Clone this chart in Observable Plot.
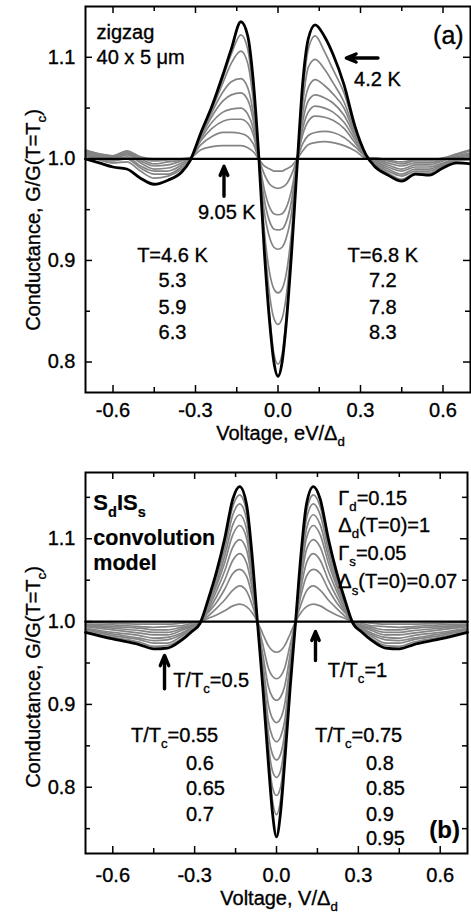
<!DOCTYPE html>
<html><head><meta charset="utf-8">
<script src="https://cdn.jsdelivr.net/npm/d3@7"></script>
<script src="https://cdn.jsdelivr.net/npm/@observablehq/plot@0.6"></script>
<style>
html,body{margin:0;padding:0;background:#fff}
#chart{width:471px}
#chart svg{display:block}
#chart svg text{stroke:#000;stroke-width:0.35px}
</style></head>
<body><div id="chart"></div>
<script>
// ---------- Panel (a): measured conductance, zigzag 40 x 5 um ----------
const xA = [-0.7, -0.65, -0.6, -0.55, -0.5, -0.45, -0.4, -0.35,
  -0.32, -0.28, -0.24, -0.2, -0.17, -0.135, -0.11, -0.09, -0.07,
  -0.05, -0.03, -0.015, 0, 0.015, 0.03, 0.05,
  0.07, 0.09, 0.11, 0.135, 0.17, 0.2, 0.24, 0.28, 0.32,
  0.35, 0.4, 0.45, 0.5, 0.55, 0.6, 0.65, 0.7];
const a42 = [1.0, 0.996, 0.992, 0.990, 0.981, 0.975, 0.979, 0.987,
  0.998, 1.026, 1.052, 1.083, 1.108, 1.135, 1.121, 1.077, 1.003,
  0.91, 0.838, 0.80, 0.786, 0.80, 0.838, 0.91,
  0.995, 1.075, 1.118, 1.132, 1.12, 1.103, 1.073, 1.032, 1.004,
  0.993, 0.984, 0.978, 0.985, 0.984, 0.991, 0.996, 0.995];
const a46 = [1.003, 0.999, 0.996, 0.997, 0.988, 0.981, 0.983, 0.99,
  0.997, 1.025, 1.051, 1.08, 1.103, 1.122, 1.108, 1.065, 1.003,
  0.914, 0.845, 0.808, 0.798, 0.808, 0.845, 0.914,
  0.997, 1.065, 1.108, 1.121, 1.105, 1.088, 1.065, 1.03, 1.004,
  0.995, 0.986, 0.980, 0.986, 0.986, 0.993, 0.998, 0.999];
const a53 = [1.004, 1.0, 0.998, 1.0, 0.991, 0.985, 0.985, 0.992,
  0.998, 1.024, 1.049, 1.075, 1.094, 1.106, 1.094, 1.058, 1.002,
  0.922, 0.865, 0.843, 0.837, 0.843, 0.865, 0.922,
  0.998, 1.055, 1.09, 1.098, 1.088, 1.075, 1.056, 1.027, 1.004,
  0.996, 0.988, 0.983, 0.988, 0.988, 0.994, 0.999, 1.001];
const a59 = [1.005, 1.001, 0.999, 1.002, 0.993, 0.988, 0.988, 0.994,
  0.999, 1.023, 1.046, 1.066, 1.076, 1.079, 1.07, 1.045, 1.001,
  0.93, 0.887, 0.872, 0.868, 0.872, 0.887, 0.93,
  0.999, 1.045, 1.07, 1.078, 1.072, 1.064, 1.05, 1.024, 1.003,
  0.997, 0.990, 0.985, 0.990, 0.990, 0.995, 1.0, 1.003];
const a63 = [1.006, 1.002, 1.0, 1.004, 0.996, 0.99, 0.991, 0.996,
  1.0, 1.022, 1.042, 1.057, 1.063, 1.065, 1.058, 1.038, 1.0,
  0.948, 0.922, 0.913, 0.911, 0.913, 0.922, 0.948,
  1.0, 1.037, 1.057, 1.063, 1.06, 1.055, 1.043, 1.022, 1.003,
  0.998, 0.992, 0.988, 0.992, 0.992, 0.996, 1.001, 1.004];
const a68 = [1.007, 1.003, 1.001, 1.005, 0.998, 0.993, 0.994, 0.998,
  1.0, 1.02, 1.036, 1.046, 1.049, 1.050, 1.044, 1.03, 1.0,
  0.96, 0.938, 0.931, 0.930, 0.931, 0.938, 0.96,
  1.0, 1.03, 1.046, 1.052, 1.05, 1.046, 1.036, 1.019, 1.003,
  0.999, 0.994, 0.990, 0.994, 0.994, 0.998, 1.002, 1.005];
const a72 = [1.007, 1.004, 1.002, 1.006, 1.0, 0.995, 0.997, 0.999,
  1.001, 1.018, 1.03, 1.037, 1.039, 1.039, 1.035, 1.024, 1.0,
  0.97, 0.952, 0.946, 0.945, 0.946, 0.952, 0.97,
  1.0, 1.024, 1.037, 1.042, 1.041, 1.038, 1.03, 1.016, 1.002,
  1.0, 0.996, 0.993, 0.996, 0.996, 0.999, 1.003, 1.006];
const a78 = [1.008, 1.005, 1.003, 1.007, 1.001, 0.998, 0.999, 1.0,
  1.001, 1.014, 1.022, 1.026, 1.026, 1.025, 1.022, 1.015, 1.0,
  0.985, 0.975, 0.972, 0.971, 0.972, 0.975, 0.985,
  1.0, 1.015, 1.023, 1.026, 1.027, 1.026, 1.021, 1.012, 1.002,
  1.0, 0.998, 0.995, 0.998, 0.998, 1.0, 1.004, 1.008];
const a83 = [1.009, 1.005, 1.003, 1.008, 1.002, 1.0, 1.0, 1.0,
  1.001, 1.009, 1.012, 1.013, 1.013, 1.013, 1.011, 1.007, 1.0,
  0.993, 0.990, 0.988, 0.988, 0.988, 0.990, 0.993,
  1.0, 1.008, 1.014, 1.016, 1.017, 1.016, 1.013, 1.008, 1.001,
  1.001, 0.999, 0.997, 0.999, 0.999, 1.001, 1.005, 1.009];
const xFlat = [-0.7, 0.7];
const a905 = [1.0, 1.0];
const grayA = [["4.6 K", a46], ["5.3 K", a53], ["5.9 K", a59], ["6.3 K", a63],
  ["6.8 K", a68], ["7.2 K", a72], ["7.8 K", a78], ["8.3 K", a83]];

// ---------- Panel (b): SdISs convolution model (symmetric in V; half profile V >= 0) ----------
const xBh = [0, 0.015, 0.03, 0.05, 0.07, 0.09, 0.11, 0.135, 0.16, 0.19, 0.22, 0.25, 0.28,
  0.31, 0.35, 0.4, 0.45, 0.5, 0.6, 0.7];
const b050 = [0.74, 0.77, 0.83, 0.92, 1.0, 1.082, 1.142, 1.163, 1.148, 1.10, 1.06, 1.027, 0.998,
  0.988, 0.977, 0.968, 0.967, 0.972, 0.979, 0.987];
const b055 = [0.767, 0.785, 0.836, 0.925, 1.0, 1.077, 1.133, 1.153, 1.139, 1.094, 1.056, 1.025, 0.998,
  0.989, 0.979, 0.971, 0.970, 0.975, 0.981, 0.988];
const b060 = [0.79, 0.80, 0.842, 0.928, 1.0, 1.071, 1.124, 1.142, 1.129, 1.087, 1.052, 1.023, 0.998,
  0.990, 0.982, 0.974, 0.974, 0.978, 0.983, 0.990];
const b065 = [0.812, 0.82, 0.852, 0.932, 1.0, 1.065, 1.112, 1.129, 1.117, 1.079, 1.047, 1.021, 0.999,
  0.992, 0.984, 0.978, 0.977, 0.980, 0.985, 0.991];
const b070 = [0.833, 0.84, 0.865, 0.937, 1.0, 1.058, 1.101, 1.116, 1.105, 1.071, 1.043, 1.019, 0.999,
  0.993, 0.986, 0.981, 0.980, 0.983, 0.987, 0.992];
const b075 = [0.855, 0.861, 0.88, 0.943, 1.0, 1.05, 1.087, 1.099, 1.09, 1.061, 1.037, 1.016, 0.999,
  0.994, 0.989, 0.984, 0.984, 0.986, 0.990, 0.994];
const b080 = [0.878, 0.883, 0.9, 0.95, 1.0, 1.041, 1.071, 1.082, 1.074, 1.05, 1.03, 1.013, 0.999,
  0.995, 0.991, 0.987, 0.987, 0.989, 0.992, 0.995];
const b085 = [0.905, 0.909, 0.922, 0.96, 1.0, 1.032, 1.055, 1.063, 1.058, 1.039, 1.023, 1.011, 1.0,
  0.996, 0.993, 0.990, 0.990, 0.992, 0.994, 0.996];
const b090 = [0.931, 0.934, 0.944, 0.972, 1.0, 1.021, 1.037, 1.043, 1.038, 1.026, 1.016, 1.007, 1.0,
  0.998, 0.995, 0.994, 0.993, 0.994, 0.996, 0.997];
const b095 = [0.963, 0.965, 0.971, 0.985, 1.0, 1.011, 1.018, 1.021, 1.019, 1.013, 1.008, 1.004, 1.0,
  0.999, 0.998, 0.997, 0.997, 0.997, 0.998, 0.999];
const b100 = [1.0, 1.0];
const grayB = [["0.55", b055], ["0.6", b060], ["0.65", b065], ["0.7", b070], ["0.75", b075],
  ["0.8", b080], ["0.85", b085], ["0.9", b090], ["0.95", b095]];

// ---------- Axes ----------
const xMajor = [-0.6, -0.3, 0, 0.3, 0.6];
const xMinor = [-0.45, -0.15, 0.15, 0.45];
const yMajor = [0.8, 0.9, 1.0, 1.1];
const yMinorA = [0.85, 0.95, 1.05];
const yMinorB = [0.75, 0.85, 0.95, 1.05, 1.15];

// ---------- Annotations (data coordinates) ----------
const textA = [
  {x: -0.658, y: 1.1173, t: "zigzag"},
  {x: -0.658, y: 1.0927, t: "40 x 5 μm"},
  {x: 0.677, y: 1.1124, t: "(a)", a: "end", s: 25},
  {x: 0.2785, y: 1.0714, t: "4.2 K"},
  {x: -0.1844, y: 0.9403, t: "9.05 K", a: "middle"},
  {x: -0.382, y: 0.898, t: "T=4.6 K", a: "middle"},
  {x: -0.382, y: 0.8732, t: "5.3", a: "middle"},
  {x: -0.382, y: 0.8469, t: "5.9", a: "middle"},
  {x: -0.382, y: 0.8224, t: "6.3", a: "middle"},
  {x: 0.383, y: 0.898, t: "T=6.8 K", a: "middle"},
  {x: 0.383, y: 0.8732, t: "7.2", a: "middle"},
  {x: 0.383, y: 0.8469, t: "7.8", a: "middle"},
  {x: 0.383, y: 0.8224, t: "8.3", a: "middle"}
];
const arrowsA = [
  {x1: 0.3636, y1: 1.0993, x2: 0.2484, y2: 1.0993},
  {x1: -0.1964, y1: 0.9632, x2: -0.1964, y2: 0.9927}
];
const textB = [
  {x: -0.6694, y: 1.1343, t: "S{d}IS{s}", w: "bold", s: 22},
  {x: -0.6694, y: 1.0919, t: "convolution", w: "bold", s: 21.5},
  {x: -0.6694, y: 1.0617, t: "model", w: "bold", s: 21.5},
  {x: 0.2283, y: 1.1402, t: "Γ{d}=0.15"},
  {x: 0.2283, y: 1.1079, t: "Δ{d}(T=0)=1"},
  {x: 0.2283, y: 1.0738, t: "Γ{s}=0.05"},
  {x: 0.2283, y: 1.0396, t: "Δ{s}(T=0)=0.07"},
  {x: -0.377, y: 0.9208, t: "T/T{c}=0.5"},
  {x: 0.19, y: 0.9329, t: "T/T{c}=1"},
  {x: -0.5313, y: 0.8544, t: "T/T{c}=0.55"},
  {x: -0.3298, y: 0.8202, t: "0.6"},
  {x: -0.3298, y: 0.7904, t: "0.65"},
  {x: -0.3298, y: 0.7590, t: "0.7"},
  {x: 0.1429, y: 0.8544, t: "T/T{c}=0.75"},
  {x: 0.3298, y: 0.8202, t: "0.8"},
  {x: 0.3298, y: 0.7904, t: "0.85"},
  {x: 0.3298, y: 0.7590, t: "0.9"},
  {x: 0.3298, y: 0.7297, t: "0.95"},
  {x: 0.6742, y: 0.7381, t: "(b)", a: "end", w: "bold", s: 24}
];
const arrowsB = [
  {x1: -0.4104, y1: 0.9189, x2: -0.4104, y2: 0.9591},
  {x1: 0.1429, y1: 0.953, x2: 0.1429, y2: 0.988}
];

const FONT = "'Liberation Sans', Arial, Helvetica, sans-serif";

function rows(xs, ys, s) { return xs.map((x, i) => ({x, y: ys[i], s})); }
function mirror(xs) { return [...xs.slice(1).reverse().map(v => -v), ...xs]; }
function mirrorY(ys) { return [...ys.slice(1).reverse(), ...ys]; }

function addRich(g, x, y, str, o = {}) {
  const size = o.size || 20;
  const t = g.append("text")
    .attr("font-size", size)
    .attr("font-weight", o.weight || "normal")
    .attr("text-anchor", o.anchor || "start")
    .attr("fill", "#000");
  if (o.weight === "bold") t.style("stroke-width", "0.2px");
  if (o.rotate) t.attr("transform", `translate(${x},${y}) rotate(${o.rotate})`);
  else t.attr("x", x).attr("y", y);
  const sh = size * 0.32, ss = size * 0.66;
  let down = false;
  for (const p of str.split(/(\{[^}]*\})/)) {
    if (!p) continue;
    if (p[0] === "{") {
      t.append("tspan").attr("font-size", ss).attr("dy", down ? 0 : sh).text(p.slice(1, -1));
      down = true;
    } else {
      const s = t.append("tspan").text(p);
      if (down) { s.attr("dy", -sh); down = false; }
    }
  }
}

function panel(cfg) {
  const W = 471 - cfg.ml - cfg.mr, H = cfg.height - cfg.mt - cfg.mb;
  const tk = {stroke: "#000", strokeWidth: 1.5};
  const svg = Plot.plot({
    width: 471, height: cfg.height,
    marginLeft: cfg.ml, marginRight: cfg.mr, marginTop: cfg.mt, marginBottom: cfg.mb,
    style: {fontFamily: FONT, fontSize: "20px", color: "#000", background: "#fff", overflow: "visible"},
    x: {domain: [-0.7, 0.7], ticks: xMajor, tickSize: 0, tickPadding: cfg.xpad, tickFormat: d => d.toFixed(1), label: null},
    y: {domain: cfg.ydom, ticks: yMajor, tickSize: 0, tickPadding: 10, tickFormat: d => d.toFixed(1), label: null},
    marks: [
      Plot.line(cfg.gray, {x: "x", y: "y", z: "s", stroke: "#848484", strokeWidth: 1.7, curve: "monotone-x"}),
      Plot.line(cfg.flat, {x: "x", y: "y", stroke: "#000", strokeWidth: 2.4}),
      Plot.line(cfg.black, {x: "x", y: "y", stroke: "#000", strokeWidth: 2.8, curve: "monotone-x"}),
      Plot.frame({stroke: "#000", strokeWidth: 2}),
      Plot.ruleX(xMajor, {x: d => d, insetTop: H - 7, ...tk}),
      Plot.ruleX(xMajor, {x: d => d, insetBottom: H - 7, ...tk}),
      Plot.ruleX(xMinor, {x: d => d, insetTop: H - 5, ...tk}),
      Plot.ruleX(xMinor, {x: d => d, insetBottom: H - 5, ...tk}),
      Plot.ruleY(yMajor, {y: d => d, insetRight: W - 7, ...tk}),
      Plot.ruleY(yMajor, {y: d => d, insetLeft: W - 7, ...tk}),
      Plot.ruleY(cfg.yMinor, {y: d => d, insetRight: W - 5, ...tk}),
      Plot.ruleY(cfg.yMinor, {y: d => d, insetLeft: W - 5, ...tk}),
      Plot.arrow(cfg.arrows, {x1: "x1", y1: "y1", x2: "x2", y2: "y2", stroke: "#000", strokeWidth: 3.4, headLength: 11, headAngle: 45})
    ]
  });
  const sx = svg.scale("x"), sy = svg.scale("y");
  const fx = sx && sx.apply ? v => sx.apply(v) : d3.scaleLinear([-0.7, 0.7], [cfg.ml, 471 - cfg.mr]);
  const fy = sy && sy.apply ? v => sy.apply(v) : d3.scaleLinear(cfg.ydom, [cfg.height - cfg.mb, cfg.mt]);
  const g = d3.select(svg).append("g").attr("font-family", FONT);
  for (const d of cfg.texts) addRich(g, fx(d.x), fy(d.y), d.t, {size: d.s || 20, weight: d.w, anchor: d.a});
  addRich(g, (cfg.ml + 471 - cfg.mr) / 2 + 3, cfg.xlabY, cfg.xlabel, {anchor: "middle"});
  addRich(g, 40, cfg.ylabC, "Conductance, G/G(T=T{c})", {anchor: "middle", rotate: -90});
  return svg;
}

const grayRowsA = grayA.flatMap(([s, ys]) => rows(xA, ys, s));
const svgA = panel({
  height: 455, ml: 85, mr: 1, mt: 6, mb: 63, xpad: 10,
  ydom: [0.77, 1.15], yMinor: yMinorA,
  gray: grayRowsA, flat: rows(xFlat, a905, "9.05 K"), black: rows(xA, a42, "4.2 K"),
  texts: textA, arrows: arrowsA,
  xlabel: "Voltage, eV/Δ{d}", xlabY: 440, ylabC: 220
});

const xB = mirror(xBh);
const grayRowsB = grayB.flatMap(([s, ys]) => rows(xB, mirrorY(ys), s));
const svgB = panel({
  height: 461, ml: 85, mr: 4, mt: 17, mb: 63, xpad: 14,
  ydom: [0.72, 1.18], yMinor: yMinorB,
  gray: grayRowsB, flat: rows(xFlat, b100, "1"), black: rows(xB, mirrorY(b050), "0.5"),
  texts: textB, arrows: arrowsB,
  xlabel: "Voltage, V/Δ{d}", xlabY: 450, ylabC: 222
});

document.getElementById("chart").append(svgA, svgB);
</script>
</body></html>
